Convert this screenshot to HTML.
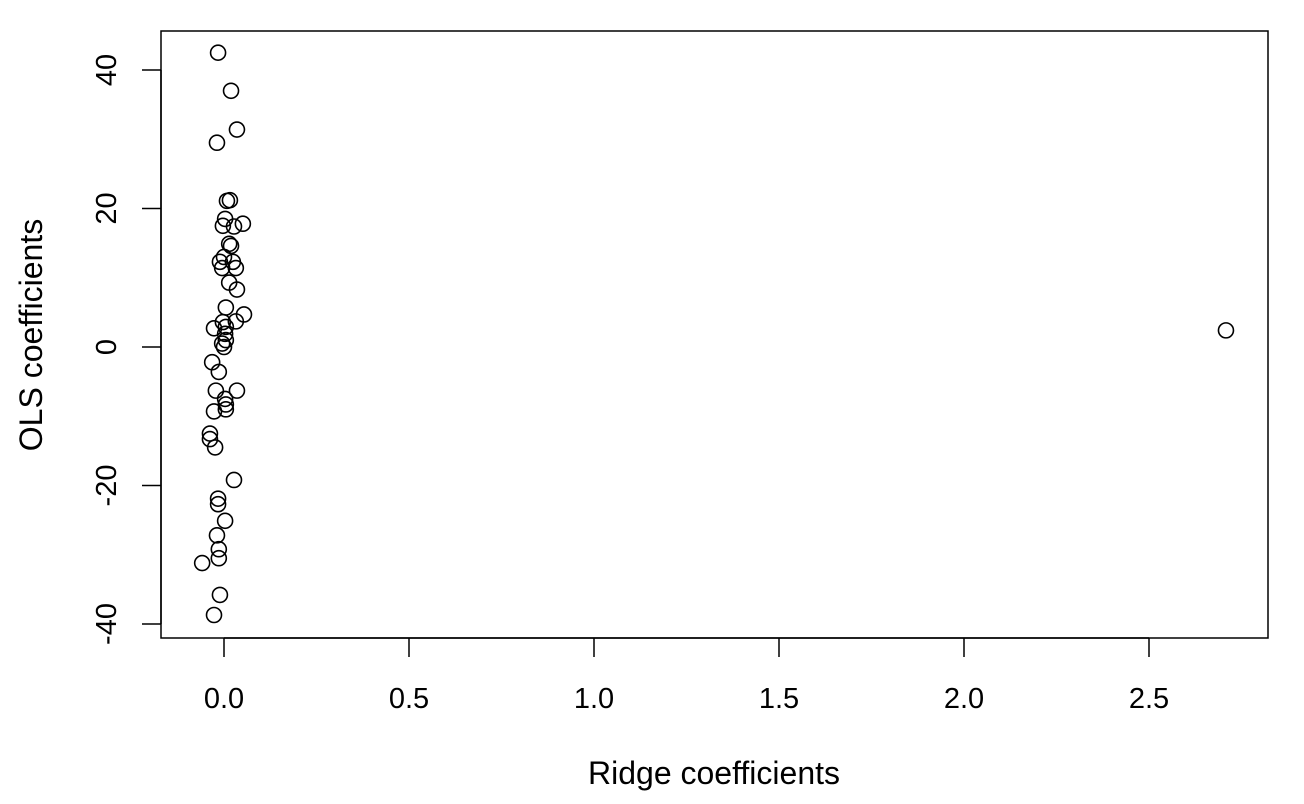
<!DOCTYPE html>
<html><head><meta charset="utf-8"><style>
html,body{margin:0;padding:0;background:#fff;}
svg{display:block;font-family:"Liberation Sans",Arial,sans-serif;}
</style></head><body>
<svg id="chart" width="1304" height="804"></svg>
<script>
const ridgeValues=[-0.016,0.019,0.035,-0.019,0.008,0.016,0.003,0.051,-0.003,0.027,0.014,0.019,-0.011,0.024,0,-0.005,0.032,0.014,0.035,0.005,0.054,0.032,-0.003,-0.027,0.005,0.003,0.005,-0.005,0,-0.032,-0.014,-0.022,0.035,0.003,0.005,0.005,-0.027,-0.038,-0.038,-0.024,0.027,-0.016,-0.016,0.003,-0.019,-0.014,-0.014,-0.059,-0.011,-0.027,2.708];
const olsValues=[42.5,37,31.4,29.5,21.1,21.2,18.5,17.8,17.5,17.4,14.9,14.6,12.3,12.3,13,11.4,11.4,9.3,8.3,5.7,4.7,3.7,3.6,2.7,2.9,1.9,1,0.5,0,-2.2,-3.6,-6.3,-6.3,-7.5,-8.3,-9,-9.3,-12.5,-13.3,-14.5,-19.2,-21.9,-22.7,-25.1,-27.2,-29.2,-30.5,-31.2,-35.8,-38.7,2.4];
const xTicks=[0,0.5,1,1.5,2,2.5];
const xTickLabels=["0.0","0.5","1.0","1.5","2.0","2.5"];
const yTicks=[-40,-20,0,20,40];
const yTickLabels=["-40","-20","0","20","40"];

const NS="http://www.w3.org/2000/svg";
const svg=document.getElementById('chart');
const L=161,T=31,R=1268,B=638;
const xs=v=>224+v*370;
const ys=v=>347-v*6.925;
function mk(tag,attrs,parent){const e=document.createElementNS(NS,tag);for(const k in attrs)e.setAttribute(k,attrs[k]);(parent||svg).appendChild(e);return e;}

const box=mk('rect',{x:L,y:T,width:R-L,height:B-T,fill:'none',stroke:'#000','stroke-width':1.5});



const xg=mk('g',{});


mk('line',{x1:xs(xTicks[0]),x2:xs(xTicks[xTicks.length-1]),y1:B,y2:B,stroke:'#000','stroke-width':1.5},xg);
xTicks.forEach((t,i)=>{
  mk('line',{x1:xs(t),x2:xs(t),y1:B,y2:B+19,stroke:'#000','stroke-width':1.5},xg);
  const tx=mk('text',{x:xs(t),y:708,'text-anchor':'middle','font-size':29},xg);
  tx.textContent=xTickLabels[i];
  
  
});
const yg=mk('g',{});


mk('line',{x1:L,x2:L,y1:ys(yTicks[0]),y2:ys(yTicks[yTicks.length-1]),stroke:'#000','stroke-width':1.5},yg);
yTicks.forEach((t,i)=>{
  mk('line',{x1:L-19,x2:L,y1:ys(t),y2:ys(t),stroke:'#000','stroke-width':1.5},yg);
  const tx=mk('text',{x:0,y:0,'text-anchor':'middle','font-size':29,transform:`translate(116,${ys(t)}) rotate(-90)`},yg);
  tx.textContent=yTickLabels[i];
  
  
});
const xt=mk('text',{x:714,y:784,'text-anchor':'middle','font-size':32});
xt.textContent='Ridge coefficients';


const yt=mk('text',{x:0,y:0,'text-anchor':'middle','font-size':32,transform:'translate(42,335) rotate(-90)'});
yt.textContent='OLS coefficients';



const pg=mk('g',{});


ridgeValues.forEach((v,i)=>{
  const c=mk('circle',{cx:xs(v),cy:ys(olsValues[i]),r:7.5,fill:'none',stroke:'#000','stroke-width':1.6},pg);
  
  
});
</script>
</body></html>
